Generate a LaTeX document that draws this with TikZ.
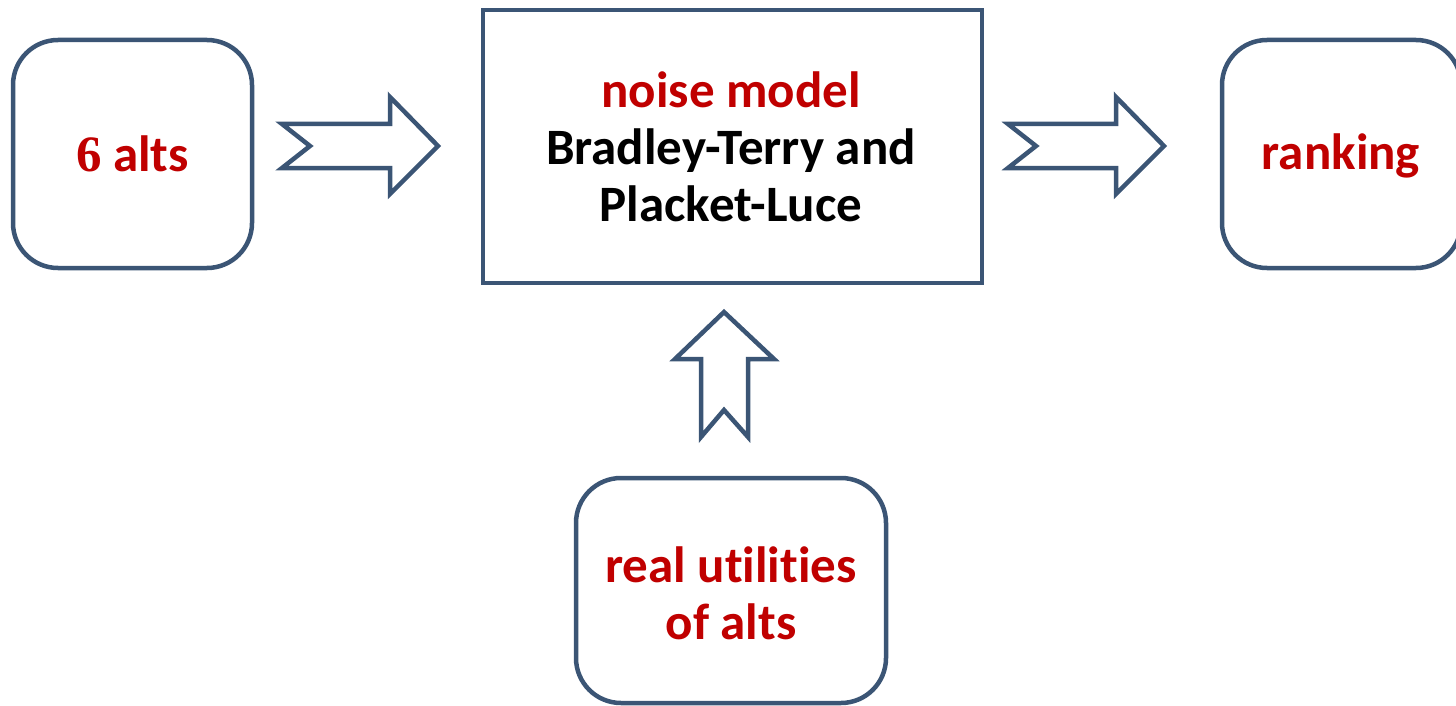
\documentclass[tikz,border=0pt]{standalone}
\usepackage{fontspec}
\setmainfont{Carlito}[Ligatures=NoCommon]
\newfontfamily\serifsix{Liberation Serif}
\definecolor{boxblue}{HTML}{3B5575}
\definecolor{darkred}{HTML}{C00000}
\begin{document}
\begin{tikzpicture}[x=1pt,y=-1pt,
  frame/.style={draw=boxblue,line width=4.5pt,fill=white,inner sep=0pt},
  roundbox/.style={frame,rounded corners=45pt},
  arrowshape/.style={draw=boxblue,line width=4.5pt,fill=white,line join=miter},
  lbl/.style={font=\fontsize{51}{57}\selectfont\bfseries,align=center}]
\useasboundingbox (0,0) rectangle (1456,706);
% boxes
\node[roundbox,minimum width=239pt,minimum height=228pt] (alts) at (132.5,154) {};
\node[frame,minimum width=499pt,minimum height=273pt] (noise) at (732.5,146.5) {};
\node[roundbox,minimum width=239pt,minimum height=228pt] (rank) at (1341.5,154) {};
\node[roundbox,minimum width=310pt,minimum height=225pt] (util) at (731,590.5) {};
% texts
\node[lbl,text=darkred] (altst) at (alts.center) {{\serifsix 6} alts};
\node[lbl,text=darkred] (rankt) at (1341,156) {ranking};
\node[lbl] (noiset) at (731,147) {\textcolor{darkred}{noise model}\\Bradley-Terry and\\Placket-Luce};
\node[lbl,text=darkred] (utilt) at (731,593) {real utilities\\of alts};
% notched arrows
\draw[arrowshape] (282,124) -- (390,124) -- (390,97) -- (438,146) -- (390,194) -- (390,168) -- (282,168) -- (310,146) -- cycle;
\draw[arrowshape] (1008,124) -- (1116,124) -- (1116,97) -- (1164,146) -- (1116,194) -- (1116,168) -- (1008,168) -- (1036,146) -- cycle;
\draw[arrowshape] (724,312) -- (774,359) -- (748,359) -- (748,437) -- (724,410) -- (701,437) -- (701,359) -- (675,359) -- cycle;
\end{tikzpicture}
\end{document}
